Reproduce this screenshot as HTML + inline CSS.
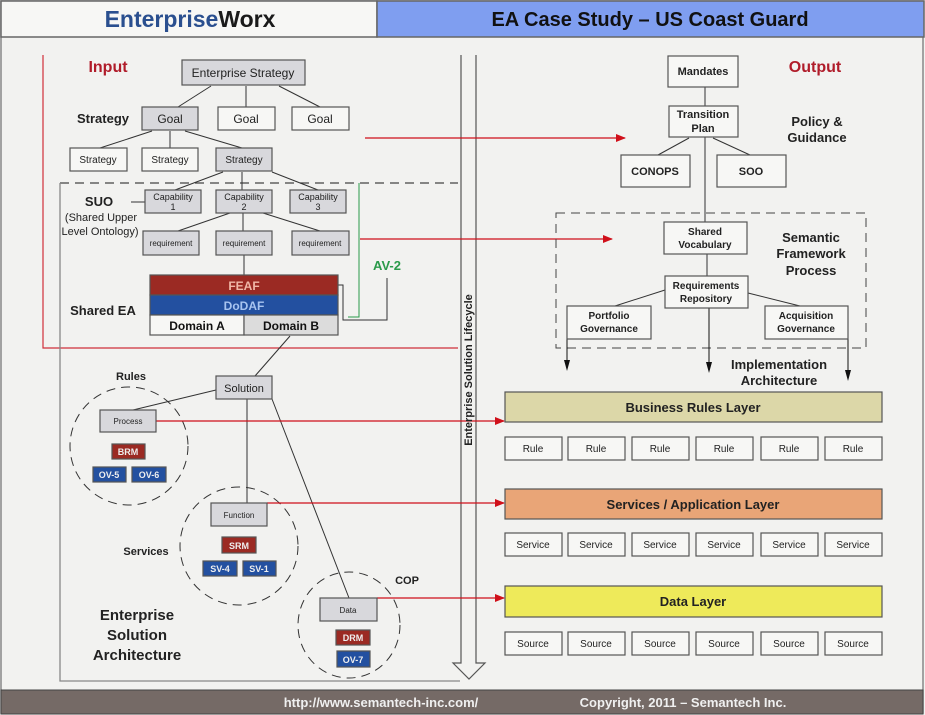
<!DOCTYPE html>
<html><head><meta charset="utf-8"><style>
html,body{margin:0;padding:0;background:#f2f2f0;}
svg{display:block;font-family:"Liberation Sans",Arial,sans-serif;}
</style></head><body>
<svg width="925" height="715" viewBox="0 0 925 715" xmlns="http://www.w3.org/2000/svg">
<defs>
<marker id="ra" markerWidth="10" markerHeight="8" refX="9" refY="4" orient="auto" markerUnits="userSpaceOnUse"><path d="M0,0 L10,4 L0,8 z" fill="#d0101a"/></marker>
</defs>
<rect x="0" y="0" width="925" height="715" fill="#f2f2f0"/>
<rect x="1" y="1" width="922" height="712" fill="none" stroke="#888" stroke-width="1.5"/>
<!-- header -->
<rect x="1" y="1" width="376" height="36" fill="#f7f7f5" stroke="#666" stroke-width="1.5"/>
<rect x="377" y="1" width="547" height="36" fill="#7f9ef0" stroke="#666" stroke-width="1.5"/>
<text x="190" y="27" text-anchor="middle" font-size="23" font-weight="bold"><tspan fill="#2a4f8f">Enterprise</tspan><tspan fill="#1a1a1a">Worx</tspan></text>
<text x="650" y="26" text-anchor="middle" font-size="20" font-weight="bold" fill="#111">EA Case Study – US Coast Guard</text>
<!-- footer -->
<rect x="1" y="690" width="922" height="24" fill="#756a66" stroke="#444"/>
<text x="381" y="707" text-anchor="middle" font-size="13" font-weight="bold" fill="#f0f0f0">http://www.semantech-inc.com/</text>
<text x="683" y="707" text-anchor="middle" font-size="13" font-weight="bold" fill="#f0f0f0">Copyright, 2011 – Semantech Inc.</text>

<g stroke="#333" stroke-width="1" fill="none">
<polyline points="43,55 43,348 458,348" stroke="#d0303a" stroke-width="1.2"/>
<line x1="60" y1="183" x2="458" y2="183" stroke-dasharray="9,6" stroke="#444" stroke-width="1.3"/>
<polyline points="60,183 60,681 460,681" stroke="#888" stroke-width="1.3"/>
<line x1="211" y1="86" x2="178" y2="107"/><line x1="246" y1="86" x2="246" y2="107"/><line x1="279" y1="86" x2="320" y2="107"/>
<line x1="152" y1="131" x2="100" y2="148"/><line x1="170" y1="131" x2="170" y2="148"/><line x1="185" y1="131" x2="242" y2="148"/>
<line x1="223" y1="172" x2="175" y2="190"/><line x1="242" y1="172" x2="242" y2="190"/><line x1="272" y1="172" x2="318" y2="190"/>
<line x1="230" y1="213" x2="178" y2="231"/><line x1="243" y1="213" x2="243" y2="231"/><line x1="263" y1="213" x2="320" y2="231"/>
<line x1="131" y1="202" x2="145" y2="202"/>
<line x1="244" y1="255" x2="244" y2="275"/>
<polyline points="359,183 359,317 348,317" stroke="#2a9a4a"/>
<polyline points="338,285 343,285 343,320 387,320 387,278"/>
<line x1="290" y1="336" x2="255" y2="376"/>
<line x1="216" y1="390" x2="133" y2="410"/>
<line x1="247" y1="399" x2="247" y2="503"/>
<line x1="272" y1="399" x2="349" y2="598"/>
<ellipse cx="129" cy="446" rx="59" ry="59" stroke-dasharray="9,6"/>
<ellipse cx="239" cy="546" rx="59" ry="59" stroke-dasharray="9,6"/>
<ellipse cx="349" cy="625" rx="51" ry="53" stroke-dasharray="9,6"/>
<path d="M461,55 L461,663 L453,663 L469,679 L485,663 L476,663 L476,55" stroke="#555" stroke-width="1.2" fill="#f2f2f0"/>
<g stroke="#d0101a" stroke-width="1.2">
<line x1="365" y1="138" x2="625" y2="138" marker-end="url(#ra)"/>
<line x1="360" y1="239" x2="612" y2="239" marker-end="url(#ra)"/>
<line x1="156" y1="421" x2="504" y2="421" marker-end="url(#ra)"/>
<line x1="267" y1="503" x2="504" y2="503" marker-end="url(#ra)"/>
<line x1="377" y1="598" x2="504" y2="598" marker-end="url(#ra)"/>
</g>
<line x1="705" y1="87" x2="705" y2="106"/>
<line x1="705" y1="137" x2="705" y2="222"/>
<line x1="689" y1="138" x2="658" y2="155"/><line x1="713" y1="138" x2="750" y2="155"/>
<rect x="556" y="213" width="310" height="135" stroke-dasharray="9,6" stroke="#444"/>
<line x1="707" y1="254" x2="707" y2="276"/>
<line x1="665" y1="290" x2="615" y2="306"/><line x1="748" y1="293" x2="800" y2="306"/>
</g>
<g fill="#111">
<path d="M564,360 L570,360 L567,371 z"/><path d="M706,362 L712,362 L709,373 z"/><path d="M845,370 L851,370 L848,381 z"/>
</g>
<g stroke="#111" stroke-width="1">
<line x1="567" y1="339" x2="567" y2="362"/><line x1="709" y1="308" x2="709" y2="364"/><line x1="848" y1="339" x2="848" y2="372"/>
</g>

<g stroke="#555" stroke-width="1.2">
<rect x="182" y="60" width="123" height="25" fill="#d8d8dc"/>
<rect x="142" y="107" width="56" height="23" fill="#d8d8dc"/>
<rect x="218" y="107" width="57" height="23" fill="#f7f7f5"/>
<rect x="292" y="107" width="57" height="23" fill="#f7f7f5"/>
<rect x="70" y="148" width="57" height="23" fill="#f7f7f5"/>
<rect x="142" y="148" width="56" height="23" fill="#f7f7f5"/>
<rect x="216" y="148" width="56" height="23" fill="#d8d8dc"/>
<rect x="145" y="190" width="56" height="23" fill="#d8d8dc"/>
<rect x="216" y="190" width="56" height="23" fill="#d8d8dc"/>
<rect x="290" y="190" width="56" height="23" fill="#d8d8dc"/>
<rect x="143" y="231" width="56" height="24" fill="#d8d8dc"/>
<rect x="216" y="231" width="56" height="24" fill="#d8d8dc"/>
<rect x="292" y="231" width="57" height="24" fill="#d8d8dc"/>
<rect x="150" y="275" width="188" height="20" fill="#9b2a23"/>
<rect x="150" y="295" width="188" height="20" fill="#2350a0"/>
<rect x="150" y="315" width="94" height="20" fill="#f7f7f5"/>
<rect x="244" y="315" width="94" height="20" fill="#dcdcdc"/>
<rect x="216" y="376" width="56" height="23" fill="#d8d8dc"/>
<rect x="100" y="410" width="56" height="22" fill="#d8d8dc"/>
<rect x="211" y="503" width="56" height="23" fill="#d8d8dc"/>
<rect x="320" y="598" width="57" height="23" fill="#d8d8dc"/>
<rect x="112" y="444" width="33" height="15" fill="#9b2a23"/>
<rect x="93" y="467" width="33" height="15" fill="#2350a0"/>
<rect x="132" y="467" width="34" height="15" fill="#2350a0"/>
<rect x="222" y="537" width="34" height="16" fill="#9b2a23"/>
<rect x="203" y="561" width="34" height="15" fill="#2350a0"/>
<rect x="243" y="561" width="33" height="15" fill="#2350a0"/>
<rect x="336" y="630" width="34" height="15" fill="#9b2a23"/>
<rect x="337" y="651" width="33" height="16" fill="#2350a0"/>
<rect x="668" y="56" width="70" height="31" fill="#f7f7f5"/>
<rect x="669" y="106" width="69" height="31" fill="#f7f7f5"/>
<rect x="621" y="155" width="69" height="32" fill="#f7f7f5"/>
<rect x="717" y="155" width="69" height="32" fill="#f7f7f5"/>
<rect x="664" y="222" width="83" height="32" fill="#f7f7f5"/>
<rect x="665" y="276" width="83" height="32" fill="#f7f7f5"/>
<rect x="567" y="306" width="84" height="33" fill="#f7f7f5"/>
<rect x="765" y="306" width="83" height="33" fill="#f7f7f5"/>
<rect x="505" y="392" width="377" height="30" fill="#dcd7a8"/>
<rect x="505" y="489" width="377" height="30" fill="#e9a577"/>
<rect x="505" y="586" width="377" height="31" fill="#eeea5a"/>
</g>
<g stroke="#555" stroke-width="1.2" fill="#f7f7f5">
<rect x="505" y="437" width="57" height="23"/><rect x="568" y="437" width="57" height="23"/><rect x="632" y="437" width="57" height="23"/><rect x="696" y="437" width="57" height="23"/><rect x="761" y="437" width="57" height="23"/><rect x="825" y="437" width="57" height="23"/>
<rect x="505" y="533" width="57" height="23"/><rect x="568" y="533" width="57" height="23"/><rect x="632" y="533" width="57" height="23"/><rect x="696" y="533" width="57" height="23"/><rect x="761" y="533" width="57" height="23"/><rect x="825" y="533" width="57" height="23"/>
<rect x="505" y="632" width="57" height="23"/><rect x="568" y="632" width="57" height="23"/><rect x="632" y="632" width="57" height="23"/><rect x="696" y="632" width="57" height="23"/><rect x="761" y="632" width="57" height="23"/><rect x="825" y="632" width="57" height="23"/>
</g>

<g text-anchor="middle" fill="#222">
<text x="108" y="72" font-size="16" font-weight="bold" fill="#b01c2a">Input</text>
<text x="815" y="72" font-size="16" font-weight="bold" fill="#b01c2a">Output</text>
<text x="243" y="77" font-size="12">Enterprise Strategy</text>
<text x="170" y="123" font-size="12">Goal</text><text x="246" y="123" font-size="12">Goal</text><text x="320" y="123" font-size="12">Goal</text>
<text x="103" y="123" font-size="13" font-weight="bold">Strategy</text>
<text x="98" y="163" font-size="10">Strategy</text><text x="170" y="163" font-size="10">Strategy</text><text x="244" y="163" font-size="10">Strategy</text>
<text x="173" y="200" font-size="9">Capability</text><text x="173" y="210" font-size="9">1</text>
<text x="244" y="200" font-size="9">Capability</text><text x="244" y="210" font-size="9">2</text>
<text x="318" y="200" font-size="9">Capability</text><text x="318" y="210" font-size="9">3</text>
<text x="99" y="206" font-size="13" font-weight="bold">SUO</text>
<text x="101" y="221" font-size="11">(Shared Upper</text>
<text x="100" y="235" font-size="11">Level Ontology)</text>
<text x="171" y="246" font-size="8">requirement</text><text x="244" y="246" font-size="8">requirement</text><text x="320" y="246" font-size="8">requirement</text>
<text x="244" y="290" font-size="12" font-weight="bold" fill="#f0b8a8">FEAF</text>
<text x="244" y="310" font-size="12" font-weight="bold" fill="#a8c4f0">DoDAF</text>
<text x="197" y="330" font-size="12" font-weight="bold" fill="#111">Domain A</text>
<text x="291" y="330" font-size="12" font-weight="bold" fill="#111">Domain B</text>
<text x="387" y="270" font-size="13" font-weight="bold" fill="#2a9a4a">AV-2</text>
<text x="103" y="315" font-size="13" font-weight="bold">Shared EA</text>
<text x="244" y="392" font-size="11">Solution</text>
<text x="131" y="380" font-size="11" font-weight="bold">Rules</text>
<text x="128" y="424" font-size="8">Process</text>
<text x="128" y="455" font-size="9" font-weight="bold" fill="#eee">BRM</text>
<text x="109" y="478" font-size="9" font-weight="bold" fill="#eee">OV-5</text>
<text x="149" y="478" font-size="9" font-weight="bold" fill="#eee">OV-6</text>
<text x="239" y="518" font-size="8">Function</text>
<text x="239" y="549" font-size="9" font-weight="bold" fill="#eee">SRM</text>
<text x="220" y="572" font-size="9" font-weight="bold" fill="#eee">SV-4</text>
<text x="259" y="572" font-size="9" font-weight="bold" fill="#eee">SV-1</text>
<text x="146" y="555" font-size="11" font-weight="bold">Services</text>
<text x="348" y="613" font-size="8">Data</text>
<text x="353" y="641" font-size="9" font-weight="bold" fill="#eee">DRM</text>
<text x="353" y="663" font-size="9" font-weight="bold" fill="#eee">OV-7</text>
<text x="407" y="584" font-size="11" font-weight="bold">COP</text>
<text x="137" y="620" font-size="15" font-weight="bold">Enterprise</text>
<text x="137" y="640" font-size="15" font-weight="bold">Solution</text>
<text x="137" y="660" font-size="15" font-weight="bold">Architecture</text>
<text transform="translate(472,370) rotate(-90)" font-size="11" font-weight="bold">Enterprise Solution Lifecycle</text>
<text x="703" y="75" font-size="11" font-weight="bold">Mandates</text>
<text x="703" y="118" font-size="11" font-weight="bold">Transition</text>
<text x="703" y="132" font-size="11" font-weight="bold">Plan</text>
<text x="655" y="175" font-size="11" font-weight="bold">CONOPS</text>
<text x="751" y="175" font-size="11" font-weight="bold">SOO</text>
<text x="817" y="126" font-size="13" font-weight="bold">Policy &amp;</text>
<text x="817" y="142" font-size="13" font-weight="bold">Guidance</text>
<text x="705" y="235" font-size="10" font-weight="bold">Shared</text>
<text x="705" y="248" font-size="10" font-weight="bold">Vocabulary</text>
<text x="811" y="242" font-size="13" font-weight="bold">Semantic</text>
<text x="811" y="258" font-size="13" font-weight="bold">Framework</text>
<text x="811" y="275" font-size="13" font-weight="bold">Process</text>
<text x="706" y="289" font-size="10" font-weight="bold">Requirements</text>
<text x="706" y="302" font-size="10" font-weight="bold">Repository</text>
<text x="609" y="319" font-size="10" font-weight="bold">Portfolio</text>
<text x="609" y="332" font-size="10" font-weight="bold">Governance</text>
<text x="806" y="319" font-size="10" font-weight="bold">Acquisition</text>
<text x="806" y="332" font-size="10" font-weight="bold">Governance</text>
<text x="779" y="369" font-size="13" font-weight="bold">Implementation</text>
<text x="779" y="385" font-size="13" font-weight="bold">Architecture</text>
<text x="693" y="412" font-size="13" font-weight="bold">Business Rules Layer</text>
<text x="693" y="509" font-size="13" font-weight="bold">Services / Application Layer</text>
<text x="693" y="606" font-size="13" font-weight="bold">Data Layer</text>
</g>
<g text-anchor="middle" font-size="10" fill="#222">
<text x="533" y="452">Rule</text><text x="596" y="452">Rule</text><text x="660" y="452">Rule</text><text x="724" y="452">Rule</text><text x="789" y="452">Rule</text><text x="853" y="452">Rule</text>
<text x="533" y="548">Service</text><text x="596" y="548">Service</text><text x="660" y="548">Service</text><text x="724" y="548">Service</text><text x="789" y="548">Service</text><text x="853" y="548">Service</text>
<text x="533" y="647">Source</text><text x="596" y="647">Source</text><text x="660" y="647">Source</text><text x="724" y="647">Source</text><text x="789" y="647">Source</text><text x="853" y="647">Source</text>
</g>
</svg>
</body></html>
